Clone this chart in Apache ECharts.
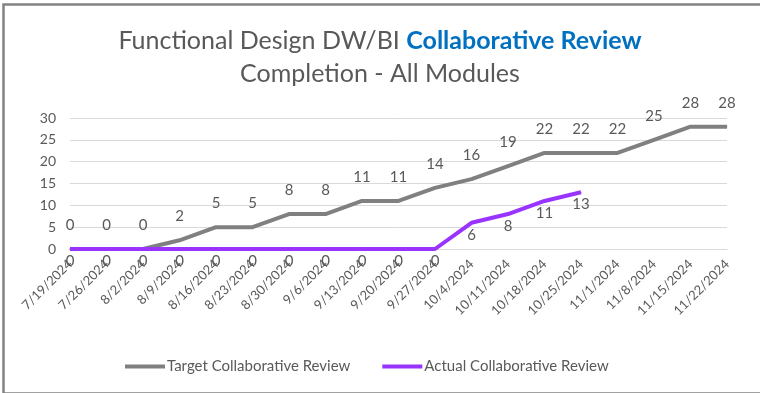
<!DOCTYPE html>
<html>
<head>
<meta charset="utf-8">
<script src="https://cdn.jsdelivr.net/npm/echarts@6/dist/echarts.min.js"></script>
<style>
html,body{margin:0;padding:0;background:#fff;}
#main{width:760px;height:393px;}
</style>
</head>
<body>
<div id="main"></div>
<script>
const categories = ['7/19/2024','7/26/2024','8/2/2024','8/9/2024','8/16/2024','8/23/2024','8/30/2024','9/6/2024','9/13/2024','9/20/2024','9/27/2024','10/4/2024','10/11/2024','10/18/2024','10/25/2024','11/1/2024','11/8/2024','11/15/2024','11/22/2024'];
const targetValues = [0,0,0,2,5,5,8,8,11,11,14,16,19,22,22,22,25,28,28];
const actualValues = [0,0,0,0,0,0,0,0,0,0,0,6,8,11,13,null,null,null,null];
const yTicks = {min:0, max:30, interval:5};
const seriesNames = ['Target Collaborative Review','Actual Collaborative Review'];

const FONT = 'Lato';
const TXT = '#595959';
const chart = echarts.init(document.getElementById('main'));
chart.setOption({
  backgroundColor:'#ffffff',
  animation:false,
  textStyle:{fontFamily:FONT},
  graphic:[{
    type:'rect', left:1, top:2, silent:true,
    shape:{x:0,y:0,width:762,height:389},
    style:{fill:'none', stroke:'#828282', lineWidth:2.5}
  }],
  title:{
    left:'center', top:19,
    text:'{a|Functional Design DW/BI }{b|Collaborative Review}\n{a|Completion - All Modules}',
    textStyle:{
      lineHeight:33, fontWeight:'normal',
      rich:{
        a:{fontFamily:FONT, fontSize:25, color:TXT, fontWeight:'normal', lineHeight:33},
        b:{fontFamily:FONT, fontSize:25, color:'#0070C0', fontWeight:'bold', lineHeight:33}
      }
    }
  },
  grid:{left:70, right:33, top:118, bottom:144, containLabel:false},
  legend:{
    bottom:14, left:120,
    itemWidth:40, itemHeight:4, itemGap:32, icon:'rect',
    textStyle:{fontFamily:FONT, fontSize:15, color:TXT, padding:[0,0,0,-3]},
    data:seriesNames
  },
  xAxis:{
    type:'category', data:categories, boundaryGap:false,
    axisLine:{show:true, lineStyle:{color:'#d9d9d9', width:1}},
    axisTick:{show:false},
    axisLabel:{rotate:45, fontSize:13, color:TXT, margin:13, fontFamily:FONT, interval:0}
  },
  yAxis:{
    type:'value', min:yTicks.min, max:yTicks.max, interval:yTicks.interval,
    axisLine:{show:false}, axisTick:{show:false},
    axisLabel:{fontSize:14, color:TXT, margin:14, fontFamily:FONT},
    splitLine:{lineStyle:{color:'#d9d9d9', width:1}}
  },
  series:[
    {
      name:seriesNames[0], type:'line', data:targetValues,
      symbol:'circle', symbolSize:1, showSymbol:true,
      itemStyle:{color:'#808080'},
      lineStyle:{color:'#808080', width:4},
      label:{show:true, position:'top', distance:16, fontSize:15, color:TXT, fontFamily:FONT},
      z:2
    },
    {
      name:seriesNames[1], type:'line', data:actualValues,
      symbol:'circle', symbolSize:1, showSymbol:true,
      itemStyle:{color:'#9933FF'},
      lineStyle:{color:'#9933FF', width:4},
      label:{show:true, position:'bottom', distance:4, fontSize:15, color:TXT, fontFamily:FONT},
      z:3
    }
  ]
});
</script>
</body>
</html>
